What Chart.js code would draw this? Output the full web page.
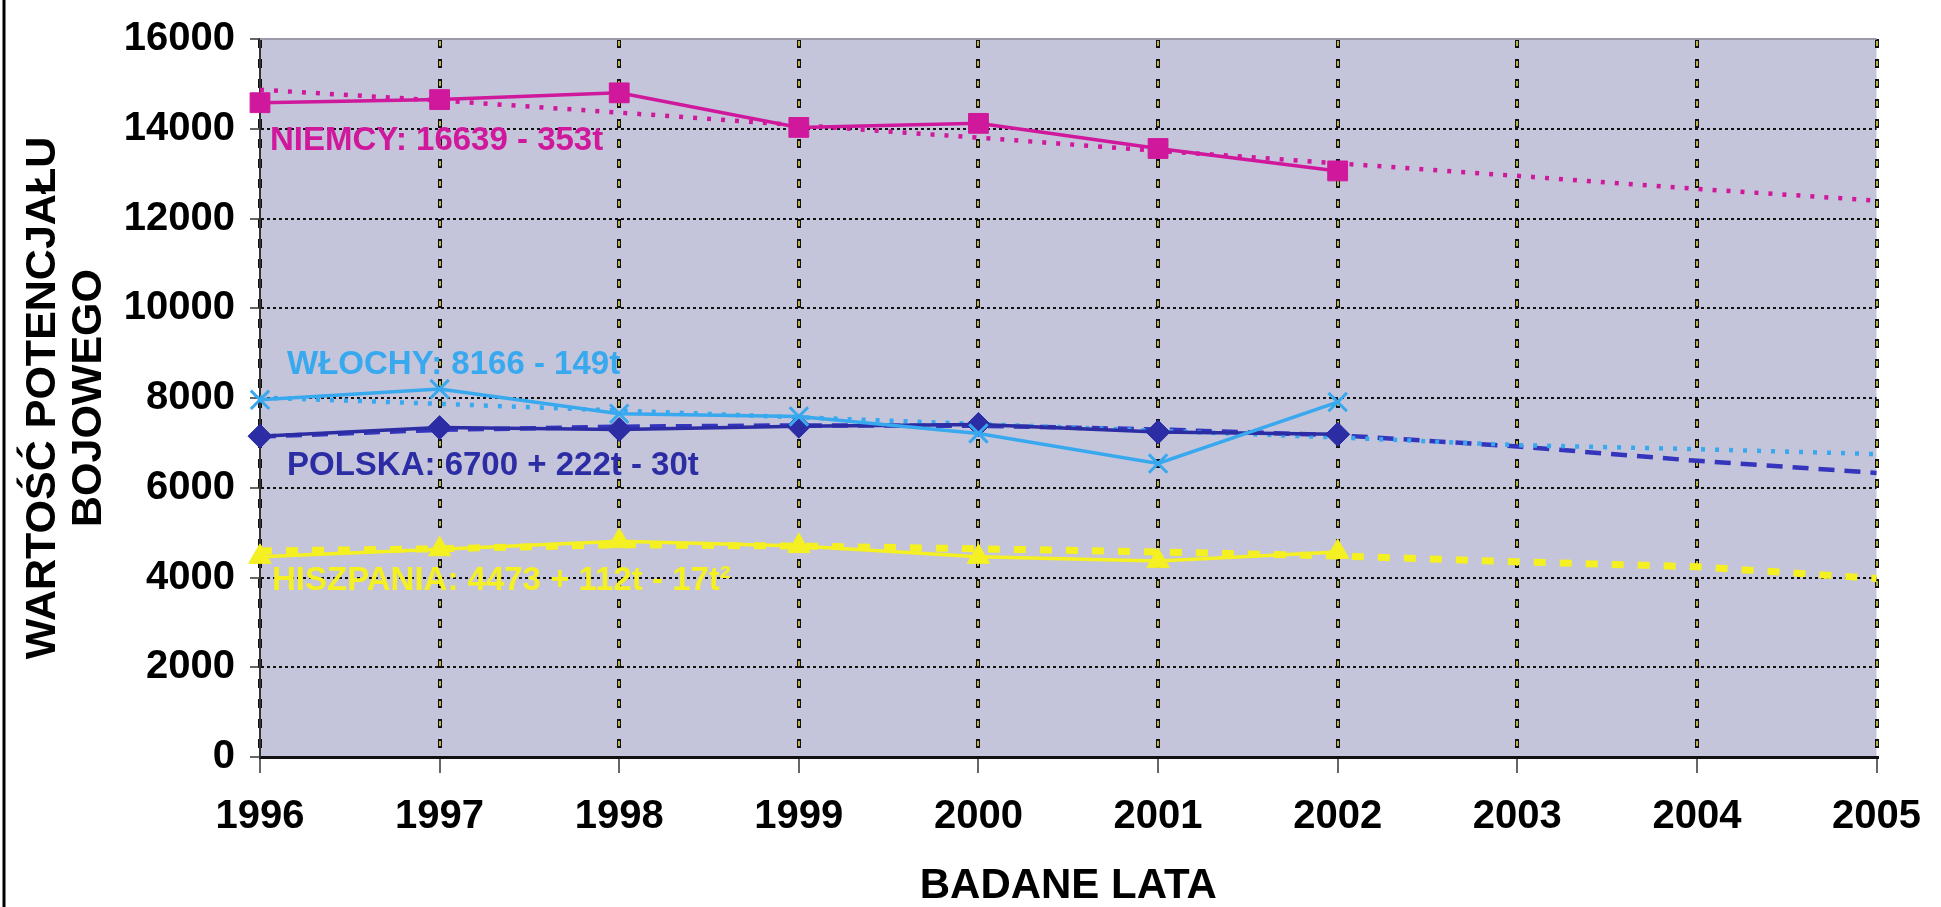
<!DOCTYPE html>
<html lang="pl">
<head>
  <meta charset="UTF-8" />
  <title>Wartość potencjału bojowego</title>
  <style>
    * { margin: 0; padding: 0; box-sizing: border-box; }
    html, body { background: #fff; width: 1941px; height: 907px; overflow: hidden; }
    .chart-box { position: relative; width: 1941px; height: 907px; }
  </style>
</head>
<body>
  <div class="chart-box"><canvas id="potChart"></canvas></div>
  <script src="https://cdn.jsdelivr.net/npm/chart.js"></script>
  <script>
    // --- data ---
    const years = ["1996", "1997", "1998", "1999", "2000", "2001", "2002", "2003", "2004", "2005"];
    const yTicks = [0, 2000, 4000, 6000, 8000, 10000, 12000, 14000, 16000];

    const niemcy = [14580, 14650, 14800, 14030, 14120, 13560, 13060];
    const niemcyTrend = [14870, 14630, 14360, 14080, 13800, 13510, 13230, 12950, 12660, 12400];

    const wlochy = [7960, 8200, 7650, 7590, 7210, 6540, 7910];
    const wlochyTrend = [8010, 7870, 7720, 7570, 7420, 7270, 7120, 6950, 6860, 6750];

    const polska = [7150, 7340, 7300, 7370, 7410, 7240, 7190];
    const polskaTrend = [7140, 7290, 7360, 7390, 7380, 7300, 7170, 6920, 6600, 6330];

    const hiszpania = [4460, 4630, 4810, 4700, 4460, 4370, 4570];
    const hiszpaniaTrend = [4590, 4640, 4730, 4700, 4640, 4570, 4480, 4350, 4240, 3980];

    const eqTexts = ["NIEMCY: 16639 - 353t", "WŁOCHY: 8166 - 149t", "POLSKA: 6700 + 222t - 30t", "HISZPANIA: 4473 + 112t - 17t²"];
    const eqValues = [13730, 8740, 6490, 3930];

    const MAGENTA = "#d0189c";
    const LBLUE = "#38a9ee";
    const DBLUE = "#2c2ca4";
    const YELLOW = "#f4f022";
    const eqColors = [MAGENTA, LBLUE, DBLUE, YELLOW];
    const FONT = "'Liberation Sans', Arial, sans-serif";

    // background of page + plot area, left frame line
    const backdrop = {
      id: "backdrop",
      beforeDraw(chart) {
        const { ctx, chartArea: a } = chart;
        ctx.save();
        ctx.fillStyle = "#fff";
        ctx.fillRect(0, 0, chart.width, chart.height);
        ctx.fillStyle = "#c4c4da";
        ctx.fillRect(a.left, a.top, a.right - a.left, a.bottom - a.top);
        ctx.strokeStyle = "#000";
        ctx.lineWidth = 3;
        ctx.beginPath();
        ctx.moveTo(4, 0);
        ctx.lineTo(4, chart.height);
        ctx.stroke();
        ctx.restore();
      },
      beforeDatasetsDraw(chart) {
        // yellow cores of the vertical dashed grid, top gray frame
        const { ctx, chartArea: a, scales: { x } } = chart;
        ctx.save();
        ctx.strokeStyle = "#9a9aaa";
        ctx.lineWidth = 2;
        ctx.beginPath();
        ctx.moveTo(a.left, a.top);
        ctx.lineTo(a.right, a.top);
        ctx.stroke();
        ctx.strokeStyle = "#f2ee5a";
        ctx.lineWidth = 1.5;
        ctx.setLineDash([5, 15]);
        ctx.lineDashOffset = -2;
        for (let i = 1; i < years.length; i++) {
          const px = Math.round(x.getPixelForTick(i));
          ctx.beginPath();
          ctx.moveTo(px, a.top);
          ctx.lineTo(px, a.bottom);
          ctx.stroke();
        }
        ctx.restore();
      },
      afterDatasetsDraw(chart) {
        const { ctx, scales: { x, y } } = chart;
        const shifts = [10, 27, 27, 12];
        ctx.save();
        ctx.font = "bold 33px " + FONT;
        ctx.textBaseline = "middle";
        eqTexts.forEach((t, i) => {
          ctx.fillStyle = eqColors[i];
          ctx.fillText(t, x.getPixelForValue(0) + shifts[i], y.getPixelForValue(eqValues[i]));
        });
        ctx.restore();
      }
    };

    const actual = (label, data, color, style, radius) => ({
      label, data,
      borderColor: color,
      backgroundColor: color,
      borderWidth: 3.5,
      pointStyle: style,
      pointRadius: radius,
      pointBackgroundColor: color,
      pointBorderColor: color,
      pointBorderWidth: style === "crossRot" ? 3 : 1,
      tension: 0
    });
    const trend = (label, data, color, dash, width) => ({
      label, data,
      borderColor: color,
      borderWidth: width,
      borderDash: dash,
      pointRadius: 0,
      tension: 0
    });

    new Chart(document.getElementById("potChart"), {
      type: "line",
      data: {
        labels: years,
        datasets: [
          actual("Niemcy", niemcy, MAGENTA, "rect", 14),
          actual("Włochy", wlochy, LBLUE, "crossRot", 13),
          actual("Polska", polska, DBLUE, "rectRot", 12),
          actual("Hiszpania", hiszpania, YELLOW, "triangle", 13),
          trend("Niemcy trend", niemcyTrend, MAGENTA, [4, 10], 4.5),
          trend("Włochy trend", wlochyTrend, LBLUE, [4, 10], 4.5),
          trend("Polska trend", polskaTrend, "#3434bc", [16, 10], 4.5),
          trend("Hiszpania trend", hiszpaniaTrend, YELLOW, [12, 14], 7)
        ]
      },
      options: {
        responsive: true,
        maintainAspectRatio: false,
        animation: false,
        events: [],
        layout: { padding: { top: 27, right: 56, left: 0, bottom: 0 } },
        plugins: {
          legend: { display: false },
          tooltip: { enabled: false }
        },
        scales: {
          x: {
            type: "category",
            offset: false,
            afterFit: s => { s.height = 150; },
            grid: {
              color: "#111",
              lineWidth: 4,
              tickColor: "#333",
              tickWidth: 1.5,
              tickLength: 16,
              tickBorderDash: []
            },
            border: { display: true, color: "#111", width: 3, dash: [9, 11] },
            ticks: {
              color: "#000",
              padding: 20,
              maxRotation: 0,
              autoSkip: false,
              font: { family: FONT, size: 40, weight: "bold" }
            },
            title: {
              display: true,
              text: "BADANE LATA",
              color: "#000",
              padding: { top: 0, bottom: 0 },
              font: { family: FONT, size: 42, weight: "bold", lineHeight: 1 }
            }
          },
          y: {
            min: 0,
            max: 16000,
            afterFit: s => { s.width = 260; },
            afterBuildTicks: s => { s.ticks = yTicks.map(v => ({ value: v })); },
            grid: {
              color: ctx => (ctx.tick && ctx.tick.value === 16000 ? "rgba(0,0,0,0)" : "#111"),
              lineWidth: 2,
              tickColor: "#333",
              tickWidth: 1.5,
              tickLength: 10,
              tickBorderDash: []
            },
            border: { display: true, color: "#333", width: 2, dash: [3, 3] },
            ticks: {
              color: "#000",
              padding: 15,
              callback: v => String(v),
              font: { family: FONT, size: 40, weight: "bold" }
            },
            title: {
              display: true,
              text: ["WARTOŚĆ POTENCJAŁU", "BOJOWEGO"],
              color: "#000",
              padding: { top: 20, bottom: 0 },
              font: { family: FONT, size: 43, weight: "bold", lineHeight: "46px" }
            }
          }
        }
      },
      plugins: [backdrop]
    });
  </script>
</body>
</html>
